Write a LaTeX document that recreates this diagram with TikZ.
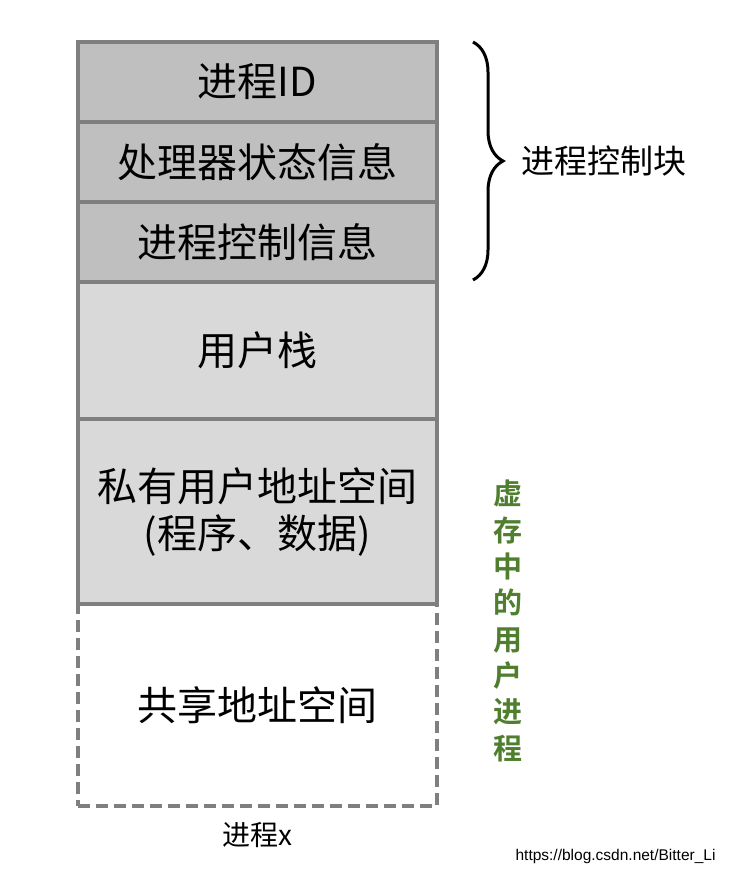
\documentclass[tikz,border=0pt]{standalone}
\usepackage{fontspec}
\setmainfont{Noto Sans CJK SC}
\newfontfamily\boldcjk{Noto Sans CJK SC Bold}
\newfontfamily\urlfont{Liberation Sans}
\usepackage{tikz}
\usetikzlibrary{positioning,decorations.pathreplacing}
\definecolor{cellline}{HTML}{7F7F7F}
\definecolor{pcbgray}{HTML}{BFBFBF}
\definecolor{usrgray}{HTML}{D9D9D9}
\definecolor{vmgreen}{HTML}{4F7F2E}
\tikzset{
  cell/.style={rectangle, draw=cellline, fill=#1, line width=4pt, outer sep=0pt,
               minimum width=359pt, align=center, inner sep=0pt,
               font=\fontsize{40}{47}\selectfont},
  dashcell/.style={rectangle, draw=cellline, line width=4pt, outer sep=0pt,
                   dash pattern=on 12pt off 6pt,
                   minimum width=359pt, align=center, inner sep=0pt,
                   font=\fontsize{40}{47}\selectfont},
}

\begin{document}
\begin{tikzpicture}[x=1pt, y=1pt, node distance=0pt]
    \useasboundingbox (0,0) rectangle (728,-874);
    % process image, top to bottom
    \node[cell=pcbgray, minimum height=80pt, anchor=north west] (pid) at (78,-42) {进程ID};
    \node[cell=pcbgray, minimum height=80pt, below=of pid] (cpu) {处理器状态信息};
    \node[cell=pcbgray, minimum height=80pt, below=of cpu] (ctl) {进程控制信息};
    \node[cell=usrgray, minimum height=137pt, below=of ctl] (ustack) {用户栈};
    \node[cell=usrgray, minimum height=185pt, below=of ustack] (priv)
      {私有用户地址空间\\(程序、数据)};
    \node[dashcell, minimum height=202pt, below=of priv] (shared) {共享地址空间};
    \node[font=\fontsize{28}{32}\selectfont, below=13pt of shared] (px) {进程x};

    % brace over the control block
    \coordinate (bt) at (473,-42);
    \coordinate (bb) at (473,-280);
    \draw[line width=3pt, decorate, decoration={brace, amplitude=30pt}] (bt) -- (bb);
    \coordinate (btip) at (505,-161);
    \node[font=\fontsize{33}{36}\selectfont, right=13pt of btip] (pcb) {进程控制块};

    % vertical note
    \node[text=vmgreen, align=center, font=\boldcjk\fontsize{29}{36.3}\selectfont] (vmnote)
      at (508,-621) {虚\\存\\中\\的\\用\\户\\进\\程};

    \node[font=\urlfont\fontsize{15.5}{18}\selectfont, anchor=east] (src) at (719,-856)
      {https://blog.csdn.net/Bitter\_Li};
  \end{tikzpicture}
\end{document}
